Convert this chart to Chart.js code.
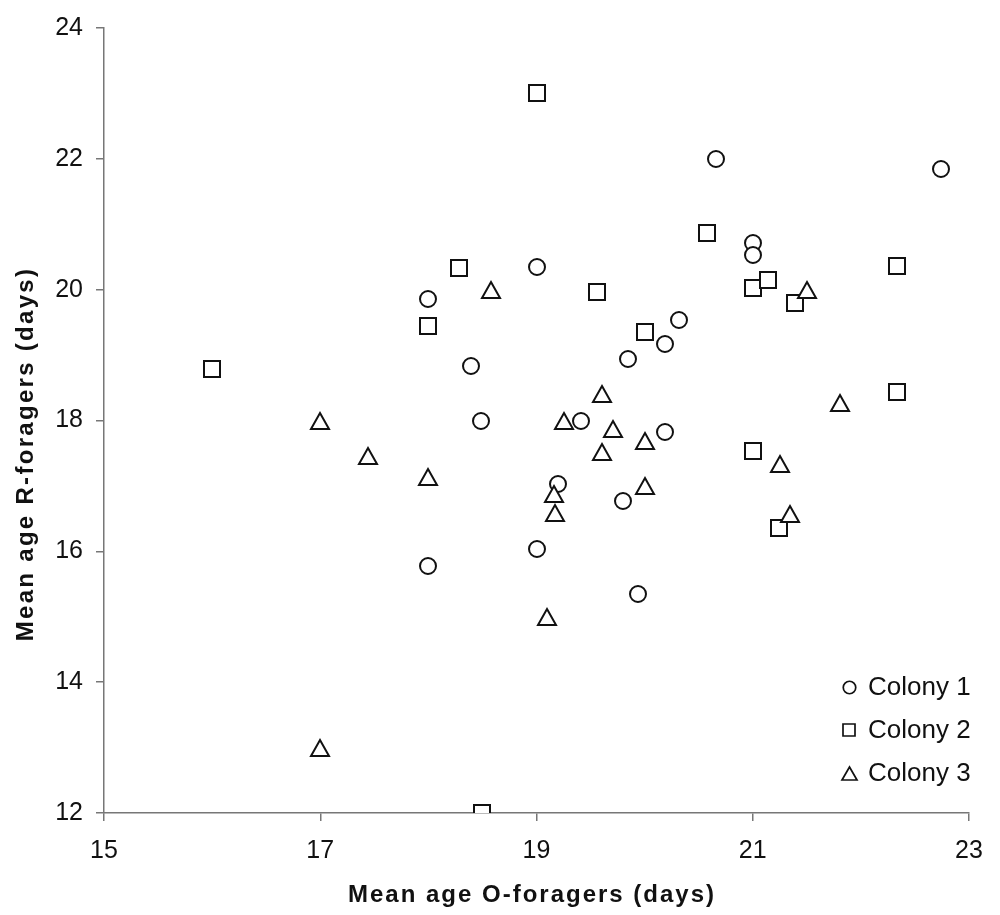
<!DOCTYPE html>
<html>
<head>
<meta charset="utf-8">
<title>Mean age of R-foragers vs O-foragers</title>
<script src="https://cdn.jsdelivr.net/npm/chart.js@4"></script>
<style>
  html, body { margin: 0; padding: 0; background: #fff; }
  #chart { display: block; }
</style>
</head>
<body>
<canvas id="chart" width="1000" height="915"></canvas>
<script>
// ===== DATA =====
let seriesNames = ["Colony 1", "Colony 2", "Colony 3"];

let colony1X = [18, 18, 18.39, 18.49, 19, 19, 19.2, 19.41, 19.8, 19.85, 19.94, 20.19, 20.19, 20.32, 20.66, 21, 21, 22.74];
let colony1Y = [19.86, 15.78, 18.84, 18.0, 20.35, 16.03, 17.03, 18.0, 16.77, 18.94, 15.35, 19.17, 17.83, 19.53, 22.0, 20.72, 20.53, 21.84];

let colony2X = [16, 18, 18.28, 18.5, 19, 19.56, 20, 20.58, 21, 21, 21.14, 21.24, 21.39, 22.33, 22.33];
let colony2Y = [18.78, 19.44, 20.33, 12.0, 23.0, 19.97, 19.35, 20.86, 20.03, 17.54, 20.15, 16.35, 19.8, 20.36, 18.43];

let colony3X = [17, 17, 17.44, 18, 18.58, 19.1, 19.16, 19.17, 19.25, 19.61, 19.61, 19.71, 20, 20, 21.25, 21.34, 21.5, 21.81];
let colony3Y = [18.0, 13.0, 17.45, 17.13, 20.0, 15.0, 16.87, 16.58, 18.0, 18.41, 17.52, 17.87, 17.69, 17.0, 17.34, 16.57, 20.0, 18.26];

let xTicks = [15, 17, 19, 21, 23];
let yTicks = [12, 14, 16, 18, 20, 22, 24];

let xTitle = "Mean age O-foragers (days)";
let yTitle = "Mean age R-foragers (days)";

// ===== STYLE =====
const INK = "#111";
const AXIS = "#777";
const FONT = "'Liberation Sans', Arial, Helvetica, sans-serif";

// hollow marker drawn on a small canvas, centred on its bounding box
function makeMarker(shape, w, h, lw) {
  let c = document.createElement("canvas");
  c.width = Math.ceil(w + lw + 6);
  c.height = Math.ceil(h + lw + 6);
  let g = c.getContext("2d");
  let cx = c.width / 2, cy = c.height / 2;
  g.lineWidth = lw;
  g.strokeStyle = INK;
  g.fillStyle = "#fff";
  g.beginPath();
  if (shape === "circle") {
    g.ellipse(cx, cy, w / 2, h / 2, 0, 0, Math.PI * 2);
  } else if (shape === "square") {
    g.rect(cx - w / 2, cy - h / 2, w, h);
  } else {
    g.moveTo(cx, cy - h / 2);
    g.lineTo(cx + w / 2, cy + h / 2);
    g.lineTo(cx - w / 2, cy + h / 2);
    g.closePath();
  }
  g.fill();
  g.stroke();
  return c;
}

let pointMarkers = [
  makeMarker("circle", 16, 16, 2),
  makeMarker("square", 16, 16, 2),
  makeMarker("triangle", 18, 16, 2)
];
let legendMarkers = [
  makeMarker("circle", 12.5, 12.5, 1.7),
  makeMarker("square", 12, 12, 1.7),
  makeMarker("triangle", 15, 13, 1.7)
];

function toPoints(xs, ys) {
  return xs.map((x, i) => ({ x: x, y: ys[i] }));
}

let seriesData = [
  toPoints(colony1X, colony1Y),
  toPoints(colony2X, colony2Y),
  toPoints(colony3X, colony3Y)
];

// ===== LEGEND + AXIS TITLES (drawn inside the plot like the original) =====
const decorPlugin = {
  id: "decor",
  beforeDatasetsDraw(chart) {
    // keep the marker images sharp at fractional pixel positions
    chart.ctx.imageSmoothingEnabled = false;
  },
  afterDatasetsDraw(chart) {
    chart.ctx.imageSmoothingEnabled = true;
  },
  afterDraw(chart) {
    let ctx = chart.ctx;
    ctx.save();

    // legend, bottom right inside the plot
    ctx.font = "26px " + FONT;
    ctx.fillStyle = INK;
    ctx.textAlign = "left";
    ctx.textBaseline = "middle";
    chart.data.datasets.forEach((ds, i) => {
      let y = 687 + i * 43;
      let m = legendMarkers[i];
      ctx.drawImage(m, Math.round(849 - m.width / 2), Math.round(y - m.height / 2));
      ctx.fillText(ds.label, 868, y + 1);
    });

    // x title
    ctx.font = "bold 24px " + FONT;
    ctx.textAlign = "center";
    ctx.textBaseline = "alphabetic";
    ctx.letterSpacing = "2px";
    ctx.fillText(xTitle, 532, 902);

    // y title
    ctx.translate(33, 454);
    ctx.rotate(-Math.PI / 2);
    ctx.letterSpacing = "2.3px";
    ctx.fillText(yTitle, 0, 0);

    ctx.restore();
  }
};

// ===== CHART =====
new Chart(document.getElementById("chart"), {
  type: "scatter",
  data: {
    datasets: seriesData.map((pts, i) => ({
      label: seriesNames[i],
      data: pts,
      pointStyle: pointMarkers[i],
      pointRadius: 9,
      backgroundColor: "#fff",
      borderColor: INK,
      order: 3 - i
    }))
  },
  options: {
    responsive: false,
    animation: false,
    events: [],
    layout: { padding: { top: 24, right: 31, left: 0, bottom: 0 } },
    plugins: {
      legend: { display: false },
      tooltip: { enabled: false }
    },
    scales: {
      x: {
        type: "linear",
        min: xTicks[0],
        max: xTicks[xTicks.length - 1],
        afterBuildTicks: s => { s.ticks = xTicks.map(v => ({ value: v })); },
        afterFit: s => { s.height = 102; },
        border: { display: true, color: AXIS, width: 1.5 },
        grid: { drawOnChartArea: false, drawTicks: true, tickLength: 8, color: AXIS, lineWidth: 1.5 },
        ticks: { padding: 15, color: INK, font: { family: FONT, size: 25 } },
        title: { display: false }
      },
      y: {
        type: "linear",
        min: yTicks[0],
        max: yTicks[yTicks.length - 1],
        afterBuildTicks: s => { s.ticks = yTicks.map(v => ({ value: v })); },
        afterFit: s => { s.width = 104; },
        border: { display: true, color: AXIS, width: 1.5 },
        grid: { drawOnChartArea: false, drawTicks: true, tickLength: 8, color: AXIS, lineWidth: 1.5 },
        ticks: { padding: 13, color: INK, font: { family: FONT, size: 25 } },
        title: { display: false }
      }
    }
  },
  plugins: [decorPlugin]
});
</script>
</body>
</html>
